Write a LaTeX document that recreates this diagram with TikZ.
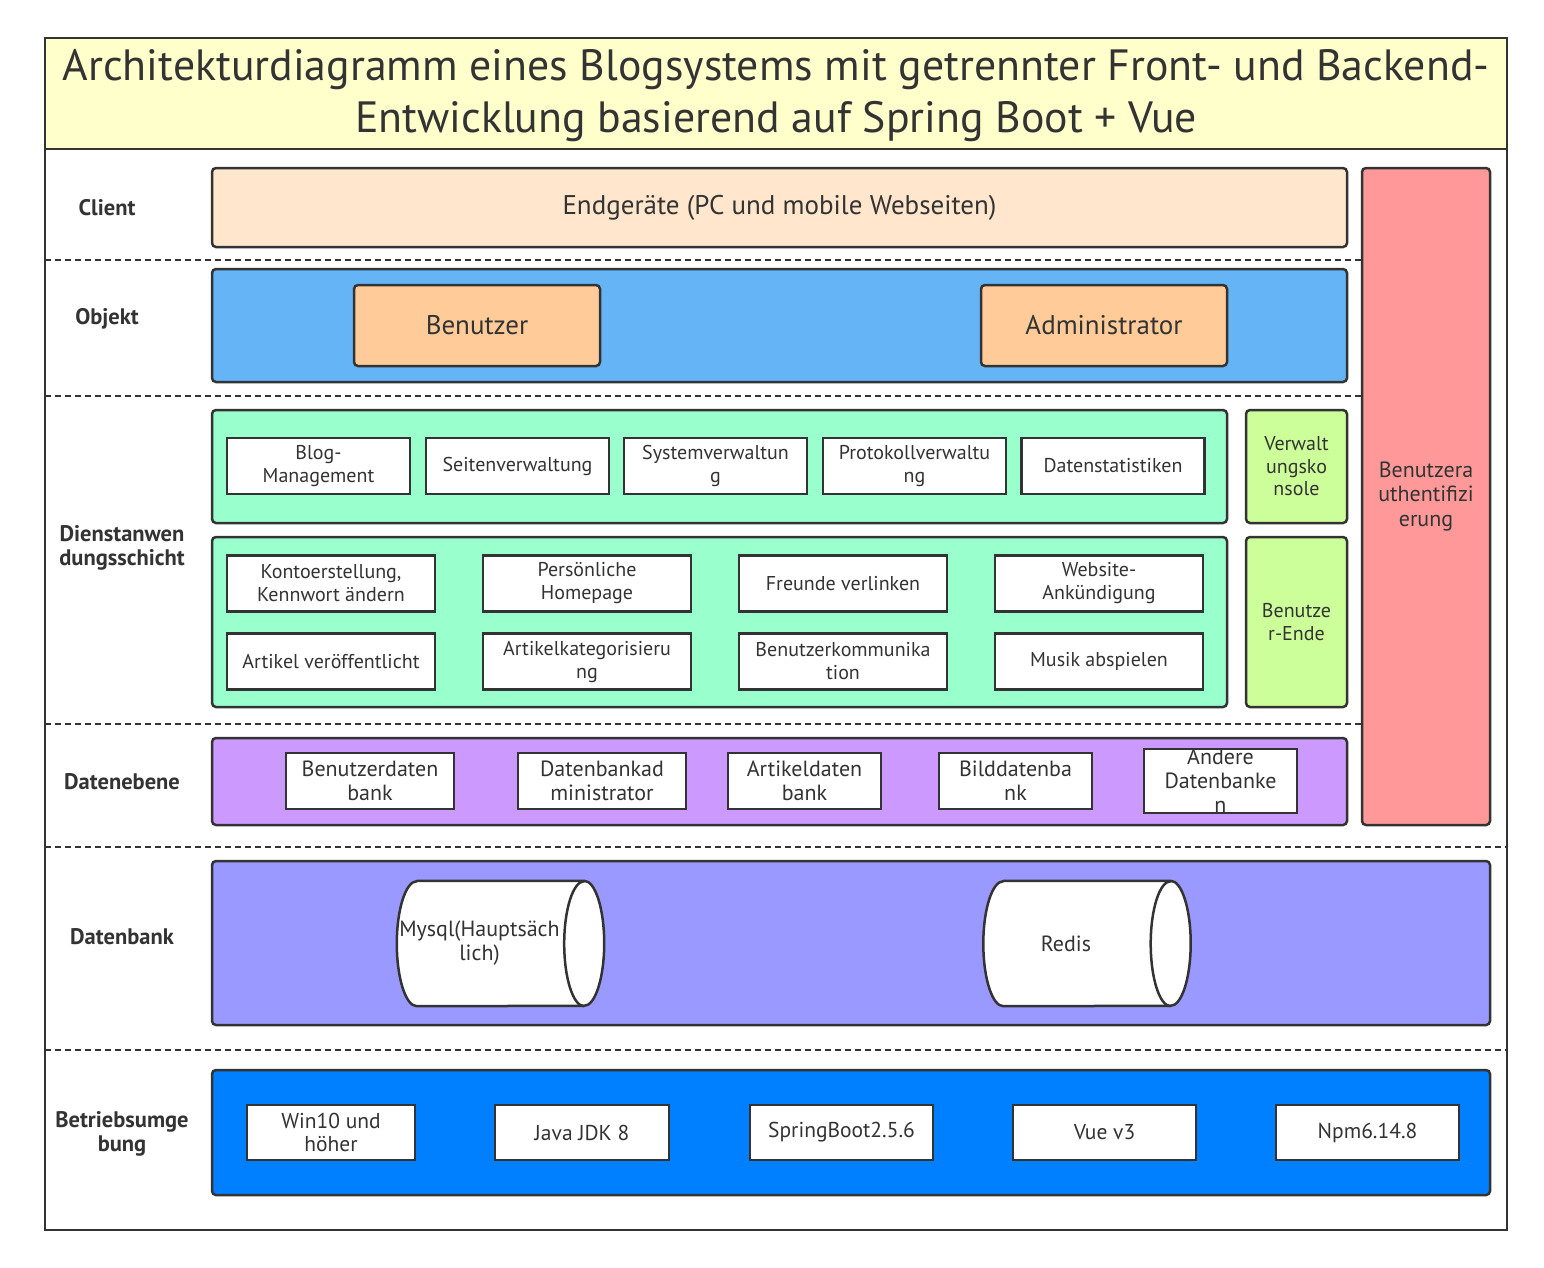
\documentclass[tikz,border=0pt]{standalone}
\usepackage{fontspec}
\setmainfont{PT Sans}
\definecolor{Ink}{HTML}{333333}
\definecolor{TitleFill}{HTML}{FFFFCC}
\definecolor{ClientFill}{HTML}{FFE6CC}
\definecolor{ObjFill}{HTML}{64B4F6}
\definecolor{RoleFill}{HTML}{FFCC99}
\definecolor{AuthFill}{HTML}{FF9999}
\definecolor{SvcFill}{HTML}{99FFCC}
\definecolor{SideFill}{HTML}{CCFF99}
\definecolor{DataFill}{HTML}{CC99FF}
\definecolor{DbFill}{HTML}{9999FF}
\definecolor{EnvFill}{HTML}{007FFF}

\begin{document}
\begin{tikzpicture}[x=1pt,y=-1pt,font=\fontsize{20}{23}\selectfont,text=Ink,layer/.style={draw=Ink, line width=2.5pt, rounded corners=4pt, inner sep=0pt},role/.style={layer, fill=RoleFill, font=\fontsize{27}{30}\selectfont, minimum width=246pt, minimum height=81pt},item/.style={draw=Ink, fill=white, line width=2.5pt, align=center, inner sep=0pt, minimum height=56pt},bigitem/.style={item, font=\fontsize{22}{24}\selectfont},envitem/.style={item, font=\fontsize{21.5}{23}\selectfont, minimum height=55pt},sidebox/.style={layer, fill=SideFill, align=center, minimum width=101pt, font=\fontsize{20}{22.5}\selectfont},rowlabel/.style={font=\bfseries\fontsize{22.5}{24}\selectfont, align=center},divider/.style={draw=Ink, line width=1.3pt, dash pattern=on 6pt off 4pt},dbbox/.style={inner sep=0pt, minimum width=207pt, minimum height=125pt},cyl/.style={draw=Ink, fill=white, line width=2.5pt, line join=round},cyltext/.style={align=center, font=\fontsize{22}{24}\selectfont, xshift=-21pt}]
\useasboundingbox[fill=white] (0,0) rectangle (1544,1267);
% frame and title
\fill[TitleFill] (45,38) rectangle (1507,149);
\draw[Ink, line width=2pt] (45,38) rectangle (1507,1230);
\draw[Ink, line width=2pt] (45,149) -- (1507,149);
\node[font=\fontsize{43.8}{52}\selectfont, align=center] (title) at (776,96) {Architekturdiagramm eines Blogsystems mit getrennter Front- und Backend-\\Entwicklung basierend auf Spring Boot + Vue};
% dividers
\draw[divider] (45,260) -- (1362,260);
\draw[divider] (45,396) -- (1362,396);
\draw[divider] (45,724) -- (1362,724);
\draw[divider] (45,847) -- (1507,847);
\draw[divider] (45,1050) -- (1507,1050);
% row labels
\node[rowlabel] (lclient) at (107,208) {Client};
\node[rowlabel] (lobj) at (107,319) {Objekt};
\node[rowlabel] (ldienst) at (122,548) {Dienstanwen\\dungsschicht};
\node[rowlabel] (ldaten) at (122,782) {Datenebene};
\node[rowlabel] (ldb) at (122,937) {Datenbank};
\node[rowlabel] (lenv) at (122,1134) {Betriebsumge\\bung};
% client
\node[layer, fill=ClientFill, minimum width=1135pt, minimum height=79pt, font=\fontsize{27}{30}\selectfont] (client) at (779.5,207.5) {Endgeräte (PC und mobile Webseiten)};
% objekt
\node[layer, fill=ObjFill, minimum width=1135pt, minimum height=113pt] (objekt) at (779.5,325.5) {};
\node[role] (benutzer) at (477,325.5) {Benutzer};
\node[role] (admin) at (1104,325.5) {Administrator};
% authentication
\node[layer, fill=AuthFill, minimum width=128pt, minimum height=657pt, align=center, font=\fontsize{22}{24.5}\selectfont] (auth) at (1426,496.5) {Benutzera\\uthentifizi\\erung};
% service layer
\node[layer, fill=SvcFill, minimum width=1015pt, minimum height=113pt] (svcadmin) at (719.5,466.5) {};
\node[item, minimum width=183pt] (blog) at (318.5,466) {Blog-\\Management};
\node[item, minimum width=183pt] (seiten) at (517.5,466) {Seitenverwaltung};
\node[item, minimum width=183pt] (system) at (715.5,466) {Systemverwaltun\\g};
\node[item, minimum width=183pt] (protokoll) at (914.5,466) {Protokollverwaltu\\ng};
\node[item, minimum width=183pt] (statistik) at (1113,466) {Datenstatistiken};
\node[sidebox, minimum height=113pt] (konsole) at (1296.5,466.5) {Verwalt\\ungsko\\nsole};
\node[layer, fill=SvcFill, minimum width=1015pt, minimum height=170pt] (svcuser) at (719.5,622) {};
\node[item, minimum width=208pt] (konto) at (331,583.5) {Kontoerstellung,\\Kennwort ändern};
\node[item, minimum width=208pt] (homepage) at (587,583.5) {Persönliche\\Homepage};
\node[item, minimum width=208pt] (freunde) at (843,583.5) {Freunde verlinken};
\node[item, minimum width=208pt] (ankuend) at (1099,583.5) {Website-\\Ankündigung};
\node[item, minimum width=208pt] (artikel) at (331,661.5) {Artikel veröffentlicht};
\node[item, minimum width=208pt] (kategorie) at (587,661.5) {Artikelkategorisieru\\ng};
\node[item, minimum width=208pt] (kommunik) at (843,661.5) {Benutzerkommunika\\tion};
\node[item, minimum width=208pt] (musik) at (1099,661.5) {Musik abspielen};
\node[sidebox, minimum height=170pt] (userend) at (1296.5,622) {Benutze\\r-Ende};
% data layer
\node[layer, fill=DataFill, minimum width=1135pt, minimum height=87pt] (datenebene) at (779.5,781.5) {};
\node[bigitem, minimum width=168pt] (userdb) at (370,781) {Benutzerdaten\\bank};
\node[bigitem, minimum width=168pt] (dbadmin) at (602,781) {Datenbankad\\ministrator};
\node[bigitem, minimum width=153pt] (artdb) at (804.5,781) {Artikeldaten\\bank};
\node[bigitem, minimum width=153pt] (bilddb) at (1015.5,781) {Bilddatenba\\nk};
\node[bigitem, minimum width=153pt] (anderedb) at (1220.5,781) {Andere\\Datenbanke\\n};
% database
\node[layer, fill=DbFill, minimum width=1278pt, minimum height=164pt] (datenbank) at (851,943) {};
\node[dbbox] (mysql) at (500.5,943.5) {};
\node[dbbox] (redis) at (1087,943.5) {};
\foreach \c in {mysql,redis}{
  \draw[cyl] ([xshift=20pt]\c.north west) -- ([xshift=-20pt]\c.north east) arc[start angle=90, end angle=-90, x radius=20pt, y radius=62.5pt] -- ([xshift=20pt]\c.south west) arc[start angle=270, end angle=90, x radius=20pt, y radius=62.5pt] -- cycle;
  \draw[cyl, fill=none] ([xshift=-20pt]\c.south east) arc[start angle=270, end angle=90, x radius=20pt, y radius=62.5pt];
}
\node[cyltext] at (mysql) {Mysql(Hauptsäch\\lich)};
\node[cyltext] at (redis) {Redis};
% runtime environment
\node[layer, fill=EnvFill, minimum width=1278pt, minimum height=125pt] (umgebung) at (851,1132.5) {};
\node[envitem, minimum width=168pt] (win) at (331,1132.5) {Win10 und\\höher};
\node[envitem, minimum width=174pt] (jdk) at (582,1132.5) {Java JDK 8};
\node[envitem, minimum width=183pt] (spring) at (841.5,1132.5) {SpringBoot2.5.6};
\node[envitem, minimum width=183pt] (vue) at (1104.5,1132.5) {Vue v3};
\node[envitem, minimum width=183pt] (npm) at (1367.5,1132.5) {Npm6.14.8};
\end{tikzpicture}
\end{document}
